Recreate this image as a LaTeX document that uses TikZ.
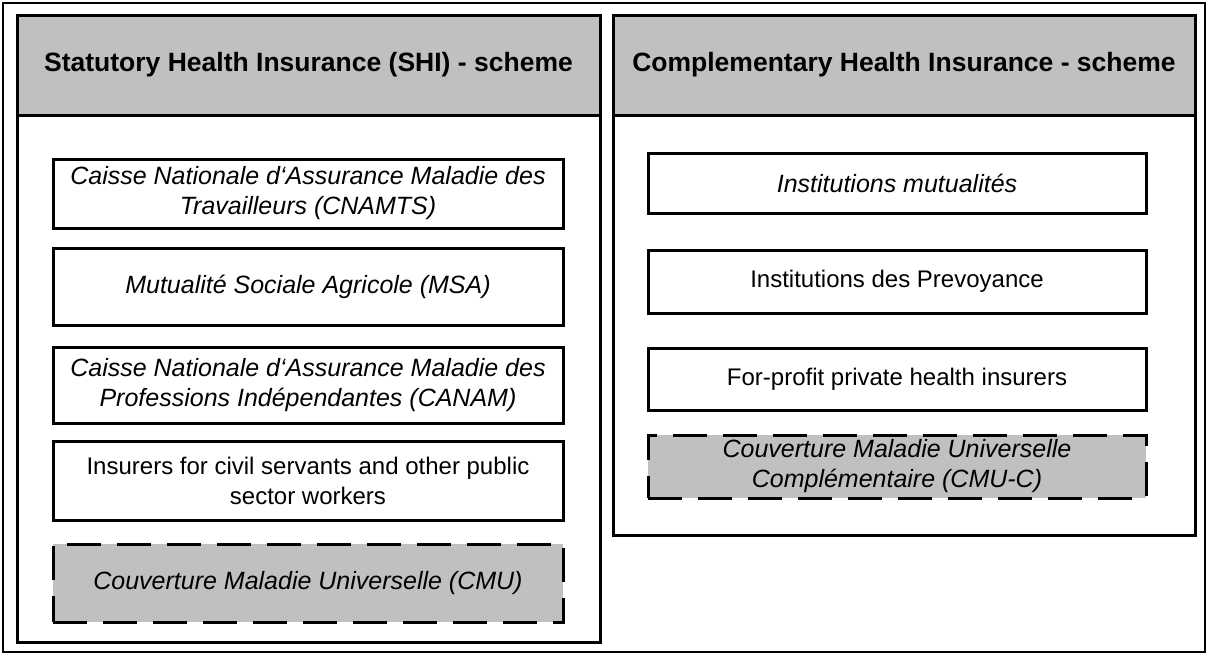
\documentclass[tikz,border=0pt]{standalone}
\usepackage{fontspec}
\setmainfont{Liberation Sans}
\usetikzlibrary{positioning}
\definecolor{hsgray}{RGB}{192,192,192}

\begin{document}
\begin{tikzpicture}[x=1pt, y=-1pt,
  frame/.style={draw, line width=3pt, inner sep=0pt},
  header/.style={frame, fill=hsgray, minimum height=100pt,
    font=\fontsize{26.5}{30}\selectfont\bfseries},
  insurer/.style={frame, align=center,
    font=\fontsize{24}{30}\selectfont},
  french/.style={font=\fontsize{25}{30}\selectfont\itshape},
  dashbox/.style={insurer, french, fill=hsgray, dash pattern=on 34pt off 16pt}]
\useasboundingbox (0,0) rectangle (1208,657);
\draw[line width=1.6pt] (3,3) rectangle (1205,652);
% Left: statutory scheme
\node[frame, minimum width=583pt, minimum height=627pt]
  (shicol) at (308.5,328.5) {};
\node[header, minimum width=583pt]
  (shi) at (308.5,65) {Statutory Health Insurance (SHI) - scheme};
\node[insurer, french, minimum width=510pt, minimum height=69pt]
  (cnamts) at (308,193.5) {Caisse Nationale d‘Assurance Maladie des\\ Travailleurs (CNAMTS)};
\node[insurer, french, minimum width=510pt, minimum height=77pt]
  (msa) at (308,286.5) {Mutualité Sociale Agricole (MSA)};
\node[insurer, french, minimum width=510pt, minimum height=76pt]
  (canam) at (308,385) {Caisse Nationale d‘Assurance Maladie des\\ Professions Indépendantes (CANAM)};
\node[insurer, minimum width=510pt, minimum height=79pt]
  (civil) at (308,480.5) {Insurers for civil servants and other public\\ sector workers};
\node[dashbox, minimum width=510pt, minimum height=78pt]
  (cmu) at (308,583) {Couverture Maladie Universelle (CMU)};
% Right: complementary scheme
\node[frame, minimum width=582pt, minimum height=520pt]
  (chicol) at (904,275) {};
\node[header, minimum width=582pt]
  (chi) at (904,65) {Complementary Health Insurance - scheme};
\node[insurer, french, minimum width=498pt, minimum height=60pt]
  (mutual) at (897,183) {Institutions mutualités};
\node[insurer, minimum width=498pt, minimum height=63pt]
  (prev) at (897,281.5) {Institutions des Prevoyance};
\node[insurer, minimum width=498pt, minimum height=62pt]
  (profit) at (897,379) {For-profit private health insurers};
\node[dashbox, minimum width=498pt, minimum height=63pt]
  (cmuc) at (897,466.5) {Couverture Maladie Universelle\\ Complémentaire (CMU-C)};
\end{tikzpicture}
\end{document}
